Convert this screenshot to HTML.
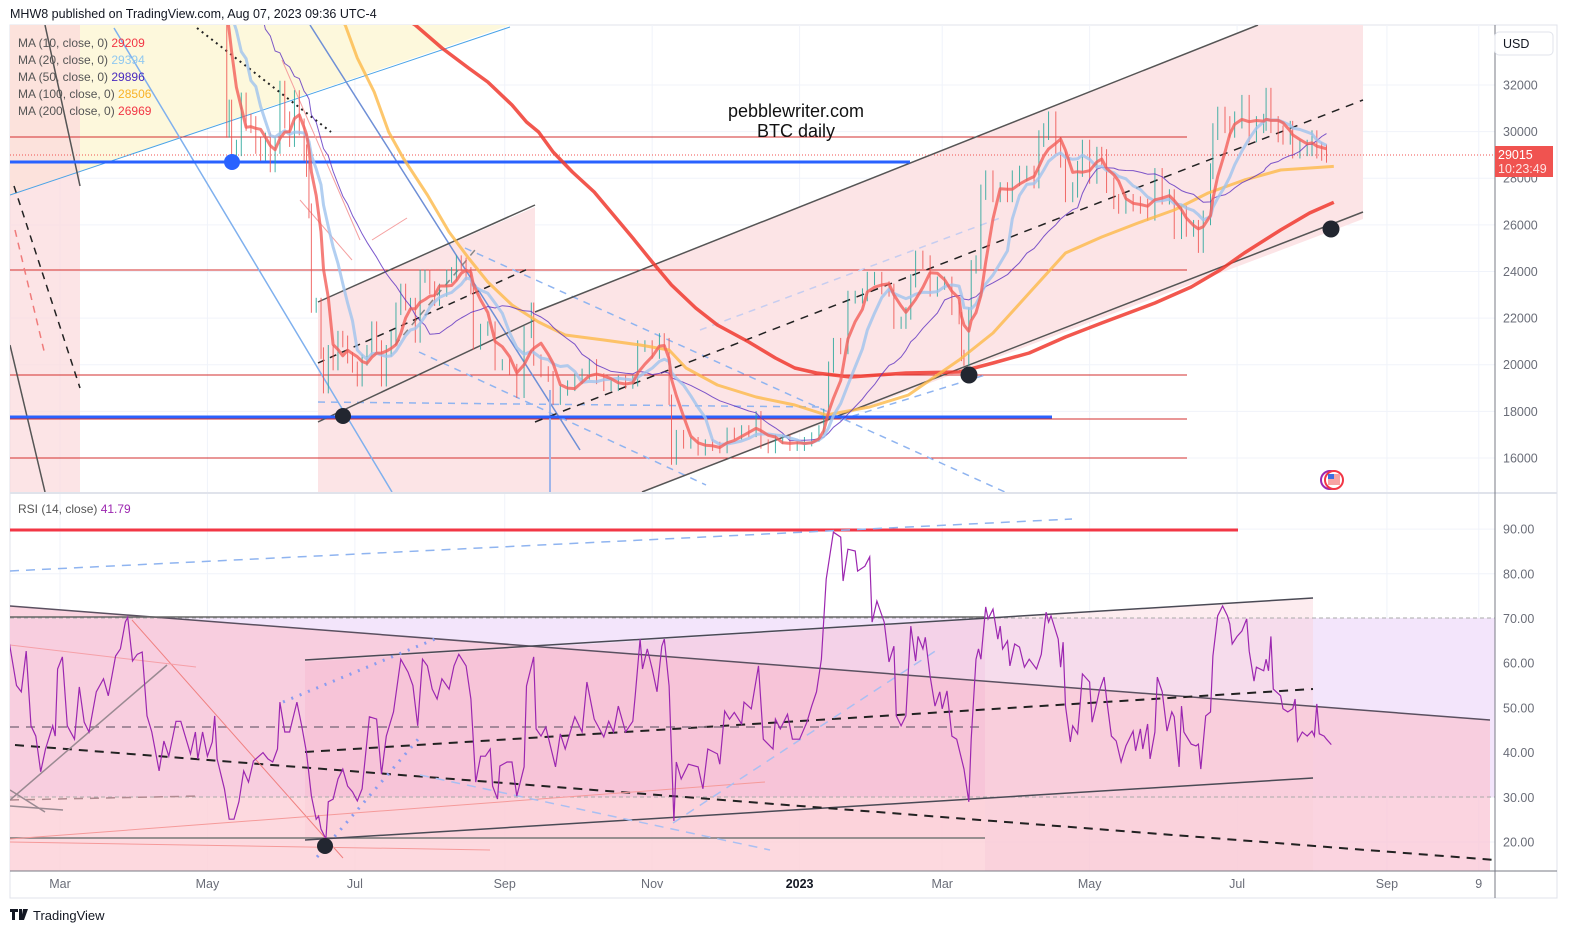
<!DOCTYPE html>
<html><head><meta charset="utf-8">
<style>
html,body{margin:0;padding:0;background:#fff;}
body{width:1573px;height:935px;overflow:hidden;font-family:"Liberation Sans",sans-serif;}
svg text{font-family:"Liberation Sans",sans-serif;}
</style></head>
<body>
<svg id="chart" width="1573" height="935" viewBox="0 0 1573 935" xmlns="http://www.w3.org/2000/svg">
<defs>
<clipPath id="pclip"><rect x="10" y="25" width="1485" height="467"/></clipPath>
<clipPath id="rclip"><rect x="10" y="494" width="1485" height="377"/></clipPath>
</defs>
<text x="10" y="18" font-size="12.5" fill="#131722">MHW8 published on TradingView.com, Aug 07, 2023 09:36 UTC-4</text>
<rect x="10" y="25" width="1547" height="873" fill="#fff" stroke="#e0e3eb"/>

<g id="grid"></g>

<g clip-path="url(#pclip)">
  <polygon points="10,25 510,25 10,195" fill="#fdf8dc"/>
  <rect x="10" y="25" width="70" height="467" fill="#fbd9dc" opacity="0.7"/>
  <line x1="10" y1="195" x2="510" y2="27" stroke="#4aa3e6" stroke-width="1"/>
  <polygon points="318,302 535,207 535,492 318,492" fill="#fce4e6"/>
  <polygon points="535,312 1258,25 1363,25 1363,219 642,492 535,492" fill="#fce4e6"/>
  <line x1="10" y1="137" x2="1187" y2="137" stroke="#d32f2f" stroke-width="1"/>
  <line x1="10" y1="270" x2="1187" y2="270" stroke="#d32f2f" stroke-width="1"/>
  <line x1="10" y1="375" x2="1187" y2="375" stroke="#d32f2f" stroke-width="1"/>
  <line x1="10" y1="419" x2="1187" y2="419" stroke="#d32f2f" stroke-width="1"/>
  <line x1="10" y1="458" x2="1187" y2="458" stroke="#d32f2f" stroke-width="1"/>
  <line x1="10" y1="155" x2="1495" y2="155" stroke="#f05350" stroke-width="1" stroke-dasharray="1,2"/>
  <line x1="45" y1="25" x2="80" y2="186" stroke="#555" stroke-width="1.5"/>
  <line x1="10" y1="345" x2="45" y2="492" stroke="#555" stroke-width="1.5"/>
  <line x1="14" y1="186" x2="80" y2="388" stroke="#222" stroke-width="1.5" stroke-dasharray="7,6"/>
  <line x1="15" y1="230" x2="45" y2="355" stroke="#f07b7b" stroke-width="1.5" stroke-dasharray="7,6"/>
  <line x1="114" y1="28" x2="392" y2="492" stroke="#7fb0ee" stroke-width="1.5"/>
  <line x1="310" y1="25" x2="580" y2="450" stroke="#6e8fd6" stroke-width="1.5"/>
  <line x1="550" y1="390" x2="550" y2="492" stroke="#9fb5ea" stroke-width="2"/>
  <line x1="197" y1="28" x2="331" y2="132" stroke="#222" stroke-width="2" stroke-dasharray="2,4"/>
  <line x1="282" y1="60" x2="360" y2="240" stroke="#f5a0a0" stroke-width="1"/>
  <line x1="300" y1="200" x2="352" y2="260" stroke="#f5a0a0" stroke-width="1"/>
  <line x1="372" y1="240" x2="407" y2="218" stroke="#f5a0a0" stroke-width="1"/>
  <line x1="318" y1="402" x2="820" y2="407" stroke="#8fb4f0" stroke-width="1.5" stroke-dasharray="7,6"/>
  <line x1="465" y1="248" x2="1005" y2="492" stroke="#8fb4f0" stroke-width="1.5" stroke-dasharray="7,6"/>
  <line x1="419" y1="352" x2="706" y2="485" stroke="#8fb4f0" stroke-width="1.5" stroke-dasharray="7,6"/>
  <line x1="700" y1="330" x2="1000" y2="218" stroke="#c6cdf0" stroke-width="1.5" stroke-dasharray="7,6"/>
  <line x1="840" y1="420" x2="985" y2="375" stroke="#8fb4f0" stroke-width="1.5" stroke-dasharray="7,6"/>
  <line x1="395" y1="345" x2="475" y2="250" stroke="#888" stroke-width="1.5" stroke-dasharray="7,6"/>
  <line x1="318" y1="302" x2="535" y2="205" stroke="#555" stroke-width="1.5"/>
  <line x1="318" y1="422" x2="535" y2="320" stroke="#555" stroke-width="1.5"/>
  <line x1="318" y1="363" x2="530" y2="268" stroke="#222" stroke-width="1.5" stroke-dasharray="7,6"/>
  <line x1="535" y1="312" x2="1258" y2="25" stroke="#555" stroke-width="1.5"/>
  <line x1="642" y1="492" x2="1363" y2="212" stroke="#555" stroke-width="1.5"/>
  <line x1="535" y1="422" x2="1363" y2="100" stroke="#222" stroke-width="1.5" stroke-dasharray="8,7"/>
  <line x1="10" y1="162" x2="910" y2="162" stroke="#2962ff" stroke-width="3"/>
  <line x1="10" y1="417" x2="1052" y2="417" stroke="#2962ff" stroke-width="3"/>
</g>
<g id="pricemarks" clip-path="url(#pclip)"></g>
<g clip-path="url(#pclip)">
  <circle cx="232" cy="162" r="8" fill="#2962ff"/>
  <circle cx="343" cy="416" r="8" fill="#222630"/>
  <circle cx="969" cy="375" r="8.5" fill="#222630"/>
  <circle cx="1331" cy="229" r="8.5" fill="#222630"/>
  <circle cx="1330" cy="480" r="9" fill="none" stroke="#9c27b0" stroke-width="2"/>
  <circle cx="1334" cy="480" r="9" fill="#fff" stroke="#f23645" stroke-width="2"/>
  <rect x="1328" y="474" width="12" height="11" fill="#f7a3a3"/><rect x="1328" y="474" width="6" height="5" fill="#3d6fe0"/>
</g>
<text x="796" y="117" text-anchor="middle" font-size="18" fill="#111">pebblewriter.com</text>
<text x="796" y="137" text-anchor="middle" font-size="18" fill="#111">BTC daily</text>

<g font-size="12">
  <text x="18" y="47" fill="#555">MA (10, close, 0) <tspan fill="#f23645">29209</tspan></text>
  <text x="18" y="64" fill="#555">MA (20, close, 0) <tspan fill="#90c8f0">29394</tspan></text>
  <text x="18" y="81" fill="#555">MA (50, close, 0) <tspan fill="#4a2bbf">29896</tspan></text>
  <text x="18" y="98" fill="#555">MA (100, close, 0) <tspan fill="#f8b227">28506</tspan></text>
  <text x="18" y="115" fill="#555">MA (200, close, 0) <tspan fill="#f23645">26969</tspan></text>
</g>

<line x1="10" y1="493" x2="1557" y2="493" stroke="#e0e3eb" stroke-width="2"/>

<g clip-path="url(#rclip)">
  <rect x="10" y="618" width="1485" height="179" fill="#f3e5fb"/>
  <polygon points="10,606 1490,720 1490,871 10,871" fill="#f9c6d6" opacity="0.75"/>
  <polygon points="305,662 985,619 985,838 305,838" fill="#f4b6cc" opacity="0.4"/>
  <polygon points="985,619 1313,598 1313,871 985,871" fill="#fbd0d8" opacity="0.4"/>
  <rect x="10" y="797" width="975" height="74" fill="#fdd" opacity="0.5"/>
  <line x1="10" y1="618" x2="1495" y2="618" stroke="#aaa" stroke-dasharray="4,3"/>
  <line x1="10" y1="797" x2="1495" y2="797" stroke="#aaa" stroke-dasharray="4,3"/>
  <line x1="10" y1="530" x2="1238" y2="530" stroke="#f23645" stroke-width="3"/>
  <line x1="10" y1="571" x2="1072" y2="519" stroke="#8fb4f0" stroke-width="1.5" stroke-dasharray="9,7"/>
  <line x1="10" y1="606" x2="1490" y2="720" stroke="#5a5060" stroke-width="1.5"/>
  <line x1="10" y1="617" x2="985" y2="617" stroke="#666" stroke-width="1.5"/>
  <line x1="10" y1="838" x2="985" y2="838" stroke="#777" stroke-width="1.5"/>
  <line x1="305" y1="660" x2="1313" y2="598" stroke="#4a4a55" stroke-width="1.5"/>
  <line x1="305" y1="840" x2="1313" y2="778" stroke="#4a4a55" stroke-width="1.5"/>
  <line x1="305" y1="752" x2="1313" y2="689" stroke="#222" stroke-width="2" stroke-dasharray="9,7"/>
  <line x1="15" y1="745" x2="1495" y2="860" stroke="#222" stroke-width="2" stroke-dasharray="9,7"/>
  <line x1="10" y1="727" x2="985" y2="727" stroke="#8a7585" stroke-width="1.5" stroke-dasharray="9,7"/>
  <line x1="10" y1="800" x2="200" y2="796" stroke="#b08a90" stroke-width="1.5" stroke-dasharray="9,7"/>
  <line x1="10" y1="800" x2="167" y2="665" stroke="#9a8a92" stroke-width="1.5"/>
  <line x1="10" y1="790" x2="45" y2="812" stroke="#9a8a92" stroke-width="1.5"/>
  <line x1="10" y1="806" x2="63" y2="810" stroke="#9a8a92" stroke-width="1.5"/>
  <line x1="132" y1="620" x2="343" y2="858" stroke="#f08080" stroke-width="1"/>
  <line x1="10" y1="645" x2="196" y2="667" stroke="#f5a0a8" stroke-width="1"/>
  <line x1="10" y1="839" x2="765" y2="782" stroke="#f59a9a" stroke-width="1"/>
  <line x1="10" y1="842" x2="490" y2="850" stroke="#f59a9a" stroke-width="1"/>
  <line x1="283" y1="702" x2="440" y2="637" stroke="#8a9cf0" stroke-width="3" stroke-dasharray="2,7"/>
  <line x1="317" y1="857" x2="420" y2="737" stroke="#8a9cf0" stroke-width="3" stroke-dasharray="2,7"/>
  <line x1="673" y1="823" x2="940" y2="648" stroke="#a9bff2" stroke-width="1.5" stroke-dasharray="9,7"/>
  <line x1="420" y1="775" x2="770" y2="850" stroke="#a9bff2" stroke-width="1.5" stroke-dasharray="9,7"/>
</g>
<g id="rsimarks" clip-path="url(#rclip)"></g>
<circle cx="325" cy="846" r="8" fill="#222630"/>
<text x="18" y="513" font-size="12" fill="#555">RSI (14, close) <tspan fill="#9c27b0">41.79</tspan></text>

<line x1="1495" y1="25" x2="1495" y2="898" stroke="#787b86" stroke-width="1"/>
<line x1="10" y1="871" x2="1557" y2="871" stroke="#787b86" stroke-width="1"/>
<g id="axislabels" font-size="12.5" fill="#6a6d78"></g>
<rect x="1495" y="32" width="58" height="23" rx="4" fill="#fff" stroke="#e0e3eb"/>
<text x="1503" y="48" font-size="12.5" fill="#131722">USD</text>
<rect x="1495" y="146" width="58" height="31" fill="#f05350"/>
<text x="1498" y="159" font-size="12.5" fill="#fff">29015</text>
<text x="1498" y="173" font-size="12.5" fill="#fde2e2">10:23:49</text>

<g>
  <path d="M10 909 h8 v3 h-3 v8 h-3 v-8 h-2z M19 909 h3 v11 h-3z M23 909 h5 l-4 11 h-3z" fill="#131722"/>
  <text x="33" y="920" font-size="13" fill="#131722">TradingView</text>
</g>
</svg>
<script>
const closeDates = ["2022-03-01","2022-03-05","2022-03-10","2022-03-15","2022-03-20","2022-03-25","2022-03-30","2022-04-04","2022-04-08","2022-04-12","2022-04-16","2022-04-20","2022-04-24","2022-04-28","2022-05-02","2022-05-05","2022-05-07","2022-05-09","2022-05-10","2022-05-11","2022-05-13","2022-05-15","2022-05-17","2022-05-19","2022-05-21","2022-05-23","2022-05-25","2022-05-27","2022-05-29","2022-05-31","2022-06-02","2022-06-04","2022-06-06","2022-06-08","2022-06-10","2022-06-11","2022-06-12","2022-06-13","2022-06-15","2022-06-17","2022-06-18","2022-06-20","2022-06-22","2022-06-24","2022-06-26","2022-06-28","2022-06-30","2022-07-02","2022-07-04","2022-07-06","2022-07-08","2022-07-10","2022-07-12","2022-07-14","2022-07-16","2022-07-18","2022-07-20","2022-07-22","2022-07-24","2022-07-26","2022-07-28","2022-07-30","2022-08-01","2022-08-03","2022-08-05","2022-08-08","2022-08-10","2022-08-12","2022-08-14","2022-08-16","2022-08-18","2022-08-19","2022-08-22","2022-08-25","2022-08-28","2022-08-31","2022-09-03","2022-09-06","2022-09-09","2022-09-12","2022-09-13","2022-09-16","2022-09-19","2022-09-21","2022-09-24","2022-09-27","2022-09-30","2022-10-03","2022-10-06","2022-10-09","2022-10-12","2022-10-15","2022-10-18","2022-10-21","2022-10-24","2022-10-26","2022-10-29","2022-11-01","2022-11-04","2022-11-06","2022-11-08","2022-11-09","2022-11-11","2022-11-14","2022-11-17","2022-11-20","2022-11-23","2022-11-26","2022-11-29","2022-12-02","2022-12-05","2022-12-08","2022-12-11","2022-12-14","2022-12-16","2022-12-19","2022-12-22","2022-12-25","2022-12-28","2022-12-31","2023-01-03","2023-01-06","2023-01-09","2023-01-11","2023-01-13","2023-01-15","2023-01-18","2023-01-21","2023-01-24","2023-01-27","2023-01-29","2023-02-01","2023-02-04","2023-02-07","2023-02-09","2023-02-12","2023-02-14","2023-02-16","2023-02-18","2023-02-21","2023-02-24","2023-02-27","2023-03-02","2023-03-05","2023-03-08","2023-03-09","2023-03-10","2023-03-12","2023-03-13","2023-03-15","2023-03-17","2023-03-19","2023-03-22","2023-03-25","2023-03-28","2023-03-30","2023-04-02","2023-04-05","2023-04-08","2023-04-10","2023-04-12","2023-04-14","2023-04-17","2023-04-19","2023-04-21","2023-04-24","2023-04-26","2023-04-28","2023-05-01","2023-05-04","2023-05-06","2023-05-08","2023-05-11","2023-05-13","2023-05-16","2023-05-19","2023-05-22","2023-05-25","2023-05-28","2023-05-31","2023-06-03","2023-06-05","2023-06-08","2023-06-10","2023-06-13","2023-06-15","2023-06-17","2023-06-20","2023-06-21","2023-06-23","2023-06-26","2023-06-28","2023-06-30","2023-07-03","2023-07-06","2023-07-09","2023-07-12","2023-07-13","2023-07-15","2023-07-18","2023-07-20","2023-07-23","2023-07-24","2023-07-27","2023-07-30","2023-08-01","2023-08-03","2023-08-05","2023-08-07"];
const closeValues = [44400,39400,39400,39300,41300,44500,47100,46600,42300,40100,40400,41500,39500,39700,38500,36500,35500,30100,31000,29000,29300,31300,30400,30300,29400,29100,29600,28600,29400,31800,30500,29700,31400,30200,29100,28400,26600,22500,22600,20500,19000,20600,20000,21200,21000,20300,19900,19300,20200,20600,21600,20800,19300,20600,21200,22400,23200,22600,22600,21200,23800,23800,23300,22800,23200,23800,23900,24400,24300,23900,23300,20900,21500,21600,20000,20000,19800,18800,21400,22400,20200,19700,19500,18500,18900,19100,19400,19600,20000,19400,19100,19100,19300,19200,19300,20800,20800,20500,21100,20900,18500,15900,17000,16600,16700,16300,16600,16500,16400,17100,17000,17200,17100,17800,16600,16400,16800,16800,16500,16500,16700,16900,17200,17900,19900,20900,20700,22900,22900,23000,23700,23700,23300,23200,21800,21800,22200,23600,24600,24400,23200,23500,23500,22400,22000,20400,20200,22200,24200,24400,27400,28000,27300,27500,27300,28000,28200,28200,27900,29700,30000,30500,29400,28800,27300,27500,28400,29300,28100,29000,28900,27700,27000,26800,27000,26900,26800,26500,28100,27200,27200,25700,26500,25800,25900,25100,26300,28300,30000,30700,30300,30100,30500,31200,29900,30300,30400,31500,30300,29900,29800,30100,29200,29300,29300,29700,29200,29100,29015];
const ma100Days = [112,118,123,130,136,142,152,161,169,177,187,198,209,225,240,252,259,272,288,304,317,335,351,360,372,386,401,416,431,446,461,475,490,505,527];
const ma100Vals = [35217,34573,33158,31699,29983,28868,27281,25694,24579,23549,22563,21834,21276,21061,20847,20633,19860,19131,18617,18273,17844,18188,18702,19346,20204,21362,23078,24793,25480,26080,26638,27367,27925,28354,28506];
const ma200Days = [137,147,158,169,177,187,193,198,204,212,221,229,237,245,253,263,272,285,296,304,313,327,350,372,386,401,416,431,453,468,480,490,505,517,527];
const ma200Vals = [35200,34573,33587,32729,32129,31142,30412,29983,29125,28268,27410,26423,25437,24407,23421,22434,21705,20976,20289,19860,19646,19474,19646,19689,20075,20504,21190,21791,22649,23335,24064,24793,25780,26509,26969];
const rsiDays = [-21,-18,-16,-14,-12,-10,-8,-6,-3,-2,-1,1,3,6,8,10,12,15,18,20,23,25,27,28,30,32,34,36,38,41,43,45,48,50,54,56,57,59,61,63,64,65,68,70,72,74,76,78,80,84,86,88,90,91,93,95,98,100,102,104,106,107,108,110,111,113,115,117,119,121,123,125,128,131,133,135,138,141,144,146,148,150,152,154,156,158,161,163,165,168,170,172,174,176,178,179,181,182,185,187,189,192,193,196,197,199,201,205,207,209,213,216,218,221,225,227,229,231,234,237,238,240,241,243,245,247,249,250,252,254,255,257,260,264,266,268,272,273,275,277,279,282,283,286,289,291,295,296,298,301,303,306,309,311,313,315,317,320,323,324,326,329,330,333,335,336,338,341,343,345,346,348,350,352,354,355,357,358,360,362,364,365,367,369,371,374,376,377,379,380,381,383,384,386,388,389,390,392,393,395,397,399,401,404,406,408,409,410,413,414,415,416,418,419,421,422,423,426,427,429,430,432,433,435,437,439,441,444,445,447,448,450,451,453,454,456,458,460,461,463,464,465,468,470,471,472,474,476,477,479,481,483,484,485,487,489,491,492,494,495,498,499,500,501,502,505,506,508,510,511,512,514,516,518,519,520,521,523,524,526];
const rsiValues = [64.7,55,53.6,62.7,46,43.7,35.7,40.8,46,43.7,58.7,61.4,46,43,54.7,46.8,44.6,53.6,56.5,52.7,61.6,63.2,69.2,70.3,60.5,62,62.5,48.2,44.6,35.9,42.6,39.2,47,47,39.7,44.6,38.6,44.6,39.2,42.4,48.2,38.6,31.9,25.1,25.1,29,35.9,33.4,38.1,40,38.6,37.9,40.8,51.3,44.6,44.6,51.3,46,40,30.3,25.1,25.8,22.9,20.7,29,29.6,34.1,36.3,32.5,31.2,29.2,31.9,48,47.5,35.2,43.7,49.1,60.9,58,55,46,60.9,59.4,54.2,52,56.5,54.2,59.4,62,59.4,52,33.4,39.2,39.2,40.8,32.5,29.6,37,37.9,37.9,30.3,36.8,54.9,61.4,45.3,43.7,45.7,36.8,44.2,40.8,48,44.6,55.8,47.5,43.5,47,44.6,50.4,44.6,47,52.7,65.4,58.7,63.2,58.7,53.6,63.8,65.4,54.9,24.7,37.9,34.1,37.4,36.8,31.9,40.8,39.7,37.4,49.3,47.5,49,46.4,51.3,49.8,59.4,43,40.8,47.5,45.3,48.6,43,43,46.8,50.4,53.6,60.9,78.8,89.3,88.2,78.4,85.5,85.1,80.6,81.7,83.8,69.2,73.9,69.2,60.3,63.8,48.2,46,48.2,68.3,60.5,66,63.2,65.8,57.1,50.4,53.6,49.8,53.8,43.7,43,36.3,29,43,60.9,63.2,60.9,72.6,69.9,72.1,65.4,68.3,63.2,65,59.4,64.3,63.6,59.1,60.9,58.7,62,71.4,69.2,70.6,65.4,59.1,64.7,50.4,42.4,46,44.2,50.4,57.6,55.8,46.8,51.3,53.8,56.9,52,43.7,42.6,37.9,41.5,44.8,40.4,45.3,40.8,46.4,38.6,44.6,56.9,53.6,44.8,49.1,48,36.8,50.4,44.6,41.9,41.5,41.9,36.3,48.2,49.1,61.6,70.6,72.8,70.6,68.8,64.3,66,67.2,69.9,62.7,56,59.1,58.3,60.9,58.3,66,54.2,52.7,49.8,49.1,49.8,52,42.6,44.6,43.7,44.8,43.7,50.9,44.2,43.7,43,41.8];
const priceTicks = [16000,18000,20000,22000,24000,26000,28000,30000,32000];
const rsiTicks = [20,30,40,50,60,70,80,90];
const timeTickDates = ["2022-03-01","2022-05-01","2022-07-01","2022-09-01","2022-11-01","2023-01-01","2023-03-01","2023-05-01","2023-07-01","2023-09-01","2023-10-09"];
const timeTickLabels = ["Mar","May","Jul","Sep","Nov","2023","Mar","May","Jul","Sep","9"];

const NS = "http://www.w3.org/2000/svg";
const ORIGIN = Date.UTC(2022,2,1);
function dayOf(s){const p=s.split("-");return (Date.UTC(+p[0],+p[1]-1,+p[2])-ORIGIN)/86400000;}
function xS(d){return 60 + d*2.417;}
function pY(p){return 458 - (p-16000)*0.023313;}
function rY(r){return 842 - (r-20)*4.47;}
function mk(tag, attrs, parent){const e=document.createElementNS(NS,tag);for(const k in attrs)e.setAttribute(k,attrs[k]);parent.appendChild(e);return e;}

const grid=document.getElementById('grid');
const axl=document.getElementById('axislabels');
priceTicks.forEach(t=>{
  const l=mk('line',{x1:10,x2:1495,y1:pY(t),y2:pY(t),stroke:'#f0f3fa'},grid);
  
  
  const tx=mk('text',{x:1503,y:pY(t)+4.5},axl);tx.textContent=t;
  
  
});
rsiTicks.forEach(t=>{
  const l=mk('line',{x1:10,x2:1495,y1:rY(t),y2:rY(t),stroke:'#f0f3fa'},grid);
  
  
  const tx=mk('text',{x:1503,y:rY(t)+4.5},axl);tx.textContent=t.toFixed(2);
  
  
});
timeTickDates.forEach((s,i)=>{
  const x=xS(dayOf(s));
  const l=mk('line',{x1:x,x2:x,y1:25,y2:871,stroke:'#f0f3fa'},grid);
  
  
  const tx=mk('text',{x:x,y:888,'text-anchor':'middle'},axl);tx.textContent=timeTickLabels[i];
  if(timeTickLabels[i]==='2023'){tx.setAttribute('font-weight','bold');tx.setAttribute('fill','#131722');}
  
  
});

const pm=document.getElementById('pricemarks');
const cd=closeDates.map(dayOf);
for(let i=1;i<closeValues.length;i++){
  const o=closeValues[i-1], c=closeValues[i], x=xS(cd[i]);
  const up=c>=o, col=up?'#26a69a':'#ef5350';
  const hi=Math.max(o,c)*1.012, lo=Math.min(o,c)*0.988;
  const w=mk('line',{x1:x,x2:x,y1:pY(hi),y2:pY(lo),stroke:col,'stroke-width':1,opacity:0.85},pm);
  
  
}
function maCalc(n){
  const out=[];
  for(let i=0;i<cd.length;i++){
    if(cd[i]-cd[0]<n*0.6) continue;
    let s=0,k=0;
    for(let j=i;j>=0&&cd[i]-cd[j]<n;j--){s+=closeValues[j];k++;}
    out.push([xS(cd[i]),pY(s/k)]);
  }
  return out;
}
function pathOf(pts){return 'M'+pts.map(p=>p[0].toFixed(1)+','+p[1].toFixed(1)).join(' L');}
const lines=[
  {pts:ma200Days.map((d,i)=>[xS(d),pY(ma200Vals[i])]),c:'#f0392f',w:3.5,o:0.85,n:'ma200-line'},
  {pts:ma100Days.map((d,i)=>[xS(d),pY(ma100Vals[i])]),c:'#fdb949',w:3,o:0.8,n:'ma100-line'},
  {pts:maCalc(50),c:'#5b2fc0',w:1,o:0.8,n:'ma50-line'},
  {pts:maCalc(20),c:'#9fc3ee',w:3,o:0.8,n:'ma20-line'},
  {pts:maCalc(10),c:'#f35f5a',w:3,o:0.8,n:'ma10-line'}
];
lines.forEach(L=>{
  const p=mk('path',{d:pathOf(L.pts),fill:'none',stroke:L.c,'stroke-width':L.w,opacity:L.o,'stroke-linejoin':'round'},pm);
  
  
});
const rm=document.getElementById('rsimarks');
const rp=mk('path',{d:pathOf(rsiDays.map((d,i)=>[xS(d),rY(rsiValues[i])])),fill:'none',stroke:'#9c27b0','stroke-width':1.2},rm);


</script>
</body></html>
